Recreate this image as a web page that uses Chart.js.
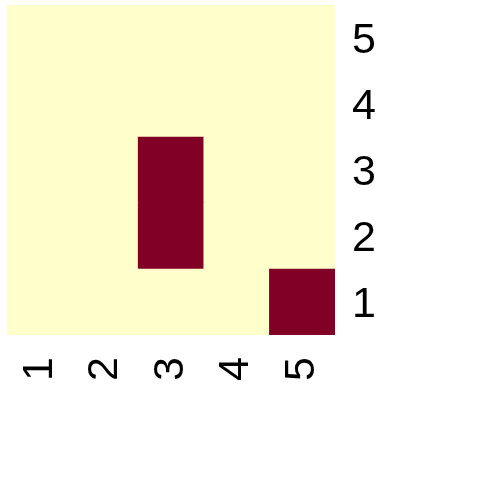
<!DOCTYPE html>
<html><head><meta charset="utf-8">
<script src="https://cdn.jsdelivr.net/npm/chart.js@4"></script>
<style>html,body{margin:0;padding:0;background:#fff}#c{display:block}</style>
</head><body>
<canvas id="c" width="500" height="500"></canvas>
<script>
const xLabels = ['1','2','3','4','5'];
const yLabels = ['1','2','3','4','5'];
// z[row][col], row = y level 1..5 (bottom to top), col = x 1..5
const z = [
  [0,0,0,0,1],
  [0,0,1,0,0],
  [0,0,1,0,0],
  [0,0,0,0,0],
  [0,0,0,0,0]
];
const palette = ['#FFFFCC','#800026'];

const datasets = yLabels.map((yl, r) => ({
  label: yl,
  data: xLabels.map(() => 1),
  backgroundColor: z[r].map(v => palette[v]),
  borderWidth: 0,
  barPercentage: 1,
  categoryPercentage: 1,
  stack: 's'
}));

const font = {family: 'Liberation Sans, Arial, sans-serif', size: 43};
new Chart(document.getElementById('c'), {
  type: 'bar',
  data: {labels: xLabels, datasets},
  options: {
    responsive: false,
    animation: false,
    events: [],
    layout: {padding: {left: 7, top: 5, right: 0, bottom: 0}},
    plugins: {legend: {display: false}, tooltip: {enabled: false}},
    scales: {
      x: {
        stacked: true,
        grid: {display: false, drawTicks: false},
        border: {display: false},
        ticks: {color: '#000', font, minRotation: 90, maxRotation: 90, padding: 22},
        afterFit: s => { s.height = 165; s.paddingLeft = 0; s.paddingRight = 0; s.paddingTop = 0; s.paddingBottom = 0; }
      },
      y: {
        stacked: true,
        position: 'right',
        min: 0, max: 5,
        grid: {display: false, drawTicks: false},
        border: {display: false},
        afterBuildTicks: s => { s.ticks = yLabels.map((l, i) => ({value: i + 0.5})); },
        ticks: {
          color: '#000', font, padding: 17, autoSkip: false, labelOffset: 3,
          callback: (v) => yLabels[Math.floor(v)]
        },
        afterFit: s => { s.width = 165; s.paddingLeft = 0; s.paddingRight = 0; s.paddingTop = 0; s.paddingBottom = 0; }
      }
    }
  }
});
</script>
</body></html>
